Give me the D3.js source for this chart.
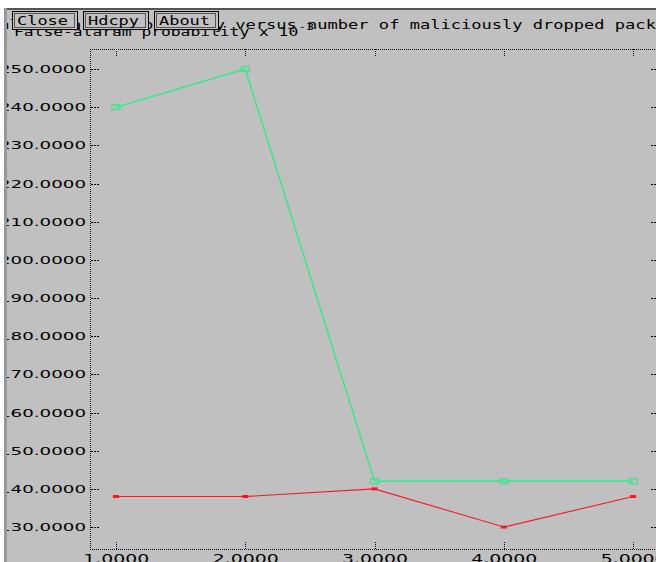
<!DOCTYPE html>
<html>
<head>
<meta charset="utf-8">
<script src="https://cdn.jsdelivr.net/npm/d3@7"></script>
<style>
  html, body { margin: 0; padding: 0; background: #ffffff; }
  svg { display: block; }
</style>
</head>
<body>
<svg id="chart" width="656" height="562"></svg>
<script>
// Number of maliciously dropped packets (x) and false-alarm probability x 10^-3 (y)
const packets = [1, 2, 3, 4, 5];
const seriesGreen = [240, 250, 142, 142, 142];
const seriesRed = [138, 138, 140, 130, 138];
const yTicks = [130, 140, 150, 160, 170, 180, 190, 200, 210, 220, 230, 240, 250];
const xTicks = [1, 2, 3, 4, 5];
const buttons = ["Close", "Hdcpy", "About"];
const titleText = "False-alarm probability versus number of maliciously dropped packets";
const yLabelText = "False-alaram probability x 10";
const yLabelExp = "-3";

const svg = d3.select("#chart");
const W = 656, H = 562;
const bg = "#c0c0c0";
const green = "#3ee68e";
const red = "#f01c24";

// window background
svg.append("rect").attr("x", 0).attr("y", 0).attr("width", W).attr("height", H).attr("fill", bg);

const x = d3.scaleLinear().domain([0.8, 5.2]).range([90, 659]);
const y = d3.scaleLinear().domain([124.25, 255.24]).range([549, 49]);

const plotL = 90, plotR = 659, plotT = 49, plotB = 549;

// dotted frame
const frame = svg.append("g").attr("stroke", "#000").attr("stroke-width", 1)
  .attr("stroke-dasharray", "1,1").attr("fill", "none").attr("shape-rendering", "crispEdges");
frame.append("line").attr("x1", plotL + 0.5).attr("x2", plotL + 0.5).attr("y1", plotT).attr("y2", plotB);
frame.append("line").attr("x1", plotL).attr("x2", plotR).attr("y1", plotT + 0.5).attr("y2", plotT + 0.5);
frame.append("line").attr("x1", plotL).attr("x2", plotR).attr("y1", plotB + 0.5).attr("y2", plotB + 0.5);
frame.append("line").attr("x1", plotR + 0.5).attr("x2", plotR + 0.5).attr("y1", plotT).attr("y2", plotB);

// y axis (ticks point into the plot)
const yAxis = d3.axisLeft(y).tickValues(yTicks).tickFormat(d3.format(".4f"))
  .tickSizeInner(-8).tickSizeOuter(0).tickPadding(4);
const gy = svg.append("g").attr("transform", `translate(${plotL},0)`).call(yAxis);
gy.select(".domain").remove();
gy.selectAll(".tick line").attr("stroke", "#000").attr("stroke-dasharray", "2,1")
  .attr("shape-rendering", "crispEdges").attr("x1", 1).attr("x2", 9);
gy.selectAll(".tick text").attr("fill", "#000")
  .style("font-family", "'DejaVu Sans', sans-serif").style("font-size", "11px")
  .attr("textLength", 87).attr("lengthAdjust", "spacingAndGlyphs");

// right-side tick marks
const yAxisR = d3.axisRight(y).tickValues(yTicks).tickFormat("").tickSizeInner(-8).tickSizeOuter(0);
const gyr = svg.append("g").attr("transform", `translate(${plotR},0)`).call(yAxisR);
gyr.select(".domain").remove();
gyr.selectAll(".tick line").attr("stroke", "#000").attr("stroke-dasharray", "2,1")
  .attr("shape-rendering", "crispEdges");

// x axis (bottom) with inward ticks
const xAxis = d3.axisBottom(x).tickValues(xTicks).tickFormat(d3.format(".4f"))
  .tickSizeInner(-8).tickSizeOuter(0).tickPadding(4);
const gx = svg.append("g").attr("transform", `translate(0,${plotB})`).call(xAxis);
gx.select(".domain").remove();
gx.selectAll(".tick line").attr("stroke", "#000").attr("stroke-dasharray", "1,1")
  .attr("shape-rendering", "crispEdges");
gx.selectAll(".tick text").attr("fill", "#000").attr("dy", null).attr("y", 14)
  .style("font-family", "'DejaVu Sans', sans-serif").style("font-size", "12px")
  .attr("textLength", 66).attr("lengthAdjust", "spacingAndGlyphs");

// top tick marks
const xAxisT = d3.axisTop(x).tickValues(xTicks).tickFormat("").tickSizeInner(-8).tickSizeOuter(0);
const gxt = svg.append("g").attr("transform", `translate(0,${plotT})`).call(xAxisT);
gxt.select(".domain").remove();
gxt.selectAll(".tick line").attr("stroke", "#000").attr("stroke-dasharray", "1,1")
  .attr("shape-rendering", "crispEdges");

// series lines
const line = d3.line().x((d, i) => x(packets[i])).y(d => y(d));

svg.append("path").datum(seriesGreen).attr("d", line)
  .attr("fill", "none").attr("stroke", green).attr("stroke-width", 1.6);
svg.append("path").datum(seriesRed).attr("d", line)
  .attr("fill", "none").attr("stroke", red).attr("stroke-width", 1.1);

// markers: hollow boxes for the green series, small filled boxes for the red one
svg.append("g").selectAll("rect").data(seriesGreen).join("rect")
  .attr("x", (d, i) => x(packets[i]) - 4).attr("y", d => y(d) - 2.5)
  .attr("width", 8).attr("height", 5)
  .attr("fill", "none").attr("stroke", green).attr("stroke-width", 1.3);
svg.append("g").selectAll("rect").data(seriesRed).join("rect")
  .attr("x", (d, i) => x(packets[i]) - 3).attr("y", d => y(d) - 1.5)
  .attr("width", 6).attr("height", 3)
  .attr("fill", red);

// title and y-axis label
const mono = "'DejaVu Sans Mono', 'Liberation Mono', monospace";
svg.append("text").attr("x", -11).attr("y", 29).text(titleText)
  .style("font-family", mono).style("font-size", "11.5px").attr("fill", "#000")
  .attr("textLength", titleText.length * 10.26).attr("lengthAdjust", "spacingAndGlyphs");

const yl = svg.append("text").attr("x", 14).attr("y", 36)
  .style("font-family", mono).style("font-size", "11.5px").attr("fill", "#000");
yl.append("tspan").text(yLabelText)
  .attr("textLength", yLabelText.length * 9.8).attr("lengthAdjust", "spacingAndGlyphs");
yl.append("tspan").text(yLabelExp).attr("dy", -6).style("font-size", "9px")
  .attr("textLength", 16).attr("lengthAdjust", "spacingAndGlyphs");

// buttons
const btnX = [12, 83, 154];
const btnW = [65, 65, 64];
const bg2 = svg.append("g");
buttons.forEach((b, i) => {
  bg2.append("rect").attr("x", btnX[i] + 0.5).attr("y", 11.5).attr("width", btnW[i]).attr("height", 18)
    .attr("fill", bg).attr("stroke", "#000").attr("stroke-width", 1);
  bg2.append("rect").attr("x", btnX[i] + 2.5).attr("y", 13.5).attr("width", btnW[i] - 5).attr("height", 14)
    .attr("fill", "none").attr("stroke", "#555").attr("stroke-width", 1);
  bg2.append("text").attr("x", btnX[i] + 5).attr("y", 25).text(b)
    .style("font-family", mono).style("font-size", "13px").attr("fill", "#000")
    .attr("textLength", 51).attr("lengthAdjust", "spacingAndGlyphs");
});

// window edges
svg.append("rect").attr("x", 0).attr("y", 0).attr("width", W).attr("height", 8).attr("fill", "#fff");
svg.append("rect").attr("x", 0).attr("y", 8).attr("width", W).attr("height", 2).attr("fill", "#555");
svg.append("rect").attr("x", 0).attr("y", 0).attr("width", 4).attr("height", H).attr("fill", "#fff");
svg.append("rect").attr("x", 4).attr("y", 8).attr("width", 3).attr("height", H).attr("fill", "#999");
</script>
</body>
</html>
